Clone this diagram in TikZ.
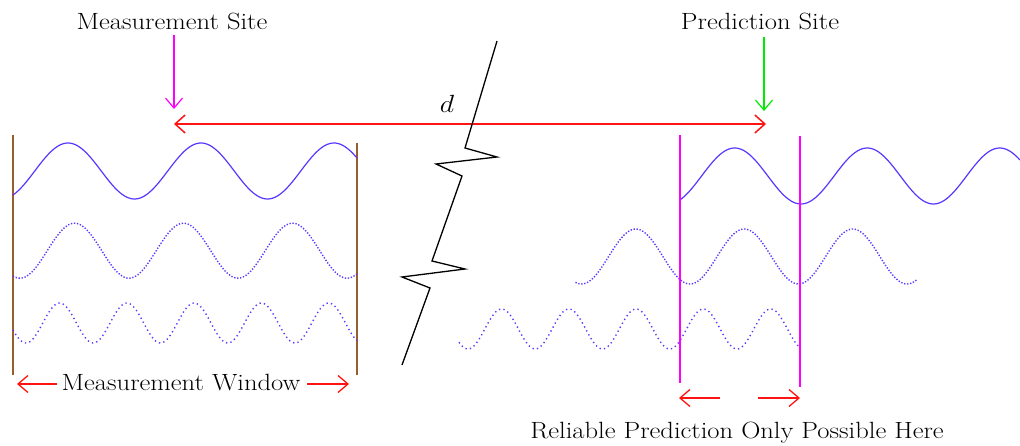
\documentclass[tikz,border=0pt]{standalone}
\usetikzlibrary{arrows.meta}
\definecolor{wavec}{RGB}{90,55,255}
\definecolor{brownl}{RGB}{150,95,45}
\definecolor{magl}{RGB}{255,0,255}
\definecolor{grnl}{RGB}{0,235,0}
\definecolor{redl}{RGB}{255,20,20}
\begin{document}
\begin{tikzpicture}[x=1pt,y=-1pt,
  lbl/.style={font=\fontsize{23.5}{26}\selectfont, inner sep=0pt, anchor=base, xscale=1.13},
  barb/.style={-{Straight Barb[length=10pt,width=17pt]}},
  dbarb/.style={{Straight Barb[length=10pt,width=18pt]}-{Straight Barb[length=10pt,width=18pt]}},
  solidwave/.style={wavec, line width=1.2pt},
  densewave/.style={wavec, line width=1.4pt, dash pattern=on 1.3pt off 1.7pt},
  sparsewave/.style={wavec, line width=1.4pt, dash pattern=on 1.3pt off 3.2pt},
  winline/.style={brownl, line width=2pt},
  predline/.style={magl, line width=2pt},
  redarrow/.style={redl, line width=1.5pt},
]
\useasboundingbox[fill=white] (0,0) rectangle (1020,446);

% labels
\node[lbl] (ms) at (172,30) {Measurement Site};
\node[lbl] (ps) at (760,30) {Prediction Site};
\node[lbl] (dl) at (447,113) {$d$};
\node[lbl] (mw) at (181,390) {Measurement Window};
\node[lbl] (rp) at (737,438) {Reliable Prediction Only Possible Here};

% site arrows
\coordinate (msA) at (174,35);
\coordinate (msB) at (174,109);
\coordinate (psA) at (764,37);
\coordinate (psB) at (764,111);
\draw[barb, magl, line width=1.2pt] (msA) -- (msB);
\draw[barb, grnl, line width=1.2pt] (psA) -- (psB);

% distance arrow
\coordinate (dL) at (174,124);
\coordinate (dR) at (766,124);
\draw[dbarb, redarrow] (dL) -- (dR);

% break line
\coordinate (z0) at (497,41);
\coordinate (z1) at (465,148);
\coordinate (z2) at (497,157);
\coordinate (z3) at (436,164);
\coordinate (z4) at (462,176);
\coordinate (z5) at (432,261);
\coordinate (z6) at (465,269);
\coordinate (z7) at (402,277);
\coordinate (z8) at (430,288);
\coordinate (z9) at (402,365);
\draw[black, line width=1.3pt, line join=miter] (z0) -- (z1) -- (z2) -- (z3) -- (z4) -- (z5) -- (z6) -- (z7) -- (z8) -- (z9);

% measurement window lines
\coordinate (wL1) at (13,135);
\coordinate (wL2) at (13,375);
\coordinate (wR1) at (357,143);
\coordinate (wR2) at (357,375);
\draw[winline] (wL1) -- (wL2);
\draw[winline] (wR1) -- (wR2);

% left waves
\draw[solidwave] plot[domain=13:357, samples=180] (\x, {171-28*cos((\x-68)*2.706767)});
\draw[densewave] plot[domain=13:357, samples=180] (\x, {250.7+27.5*cos((\x-129)*3.302752)});
\draw[sparsewave] plot[domain=13:357, samples=220] (\x, {323+20*cos((\x-26)*5.353160)});

% right waves
\draw[solidwave] plot[domain=680:1020, samples=180] (\x, {176-28*cos((\x-734.7)*2.716981)});
\draw[densewave] plot[domain=575.5:916.5, samples=180] (\x, {256.5+27.5*cos((\x-690)*3.317972)});
\draw[sparsewave] plot[domain=459:799, samples=220] (\x, {329+20*cos((\x-468)*5.353160)});

% prediction window lines
\coordinate (pL1) at (680,135);
\coordinate (pL2) at (680,383);
\coordinate (pR1) at (800,136);
\coordinate (pR2) at (800,387);
\draw[predline] (pL1) -- (pL2);
\draw[predline] (pR1) -- (pR2);

% window arrows
\coordinate (mwLa) at (57,384);
\coordinate (mwLb) at (17,384);
\coordinate (mwRa) at (307,384);
\coordinate (mwRb) at (349,384);
\draw[barb, redarrow, line width=1.3pt] (mwLa) -- (mwLb);
\draw[barb, redarrow, line width=1.3pt] (mwRa) -- (mwRb);

\coordinate (rpLa) at (720,398);
\coordinate (rpLb) at (679,398);
\coordinate (rpRa) at (758,398);
\coordinate (rpRb) at (800,398);
\draw[barb, redarrow, line width=1.3pt] (rpLa) -- (rpLb);
\draw[barb, redarrow, line width=1.3pt] (rpRa) -- (rpRb);
\end{tikzpicture}
\end{document}
